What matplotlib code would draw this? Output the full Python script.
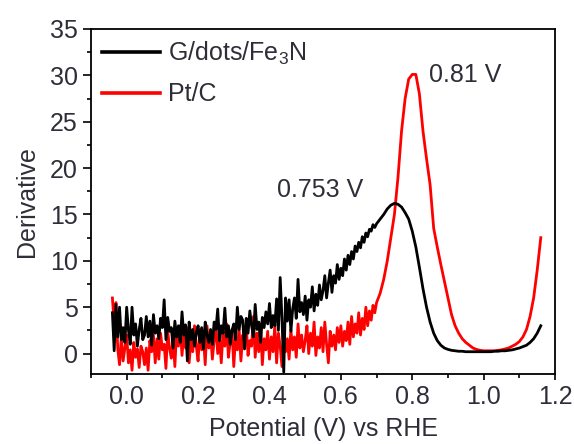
import numpy as np
import matplotlib
matplotlib.use("Agg")
import matplotlib.pyplot as plt
from matplotlib.ticker import MultipleLocator

plt.rcParams['font.family'] = ['Liberation Sans', 'DejaVu Sans']
plt.rcParams['mathtext.fontset'] = 'custom'
plt.rcParams['mathtext.rm'] = 'Liberation Sans'
plt.rcParams['mathtext.it'] = 'Liberation Sans'

# potential grid: fine in noisy region, coarser in smooth region
x_noisy = np.round(np.arange(-0.040, 0.6951, 0.005), 3)
x_smooth = np.round(np.arange(0.70, 1.1601, 0.01), 3)

black_noisy = [
    4.4, 0.3, 5.3, 1.8, 5.0, 1.5, 2.8, 1.2,
    5.0, 2.5, 1.0, 5.0, 2.0, 3.2, 0.8, 2.6, 3.8, 1.5,
    2.0, 4.0, 1.8, 3.5, 0.9, 4.2, 2.2, 3.0, 1.6, 3.8,
    2.8, 5.8, 1.5, 3.9, 2.4, 2.8, 0.6, 3.5, 1.8, 3.0,
    1.2, 4.5, 2.0, 3.1, -0.8, 3.4, 1.5, 2.6, 0.8, 2.2,
    3.0, 1.2, 2.8, 0.5, 3.4, 2.0, 1.2, 2.6, 1.0, 3.4,
    2.6, 4.8, 1.4, 3.0, 2.2, 4.9, 1.8, 3.0, 1.0, 2.5,
    3.2, 1.5, 5.0, 2.6, 4.0, 3.6, 0.5, 3.8, 2.2, 4.6,
    3.0, 1.8, 5.3, 2.6, 3.4, 1.2, 3.9, 2.8, 4.5, 3.2,
    5.4, 2.8, 4.1, 3.0, 5.9, 2.5, 8.2, 3.8, -2.0, 6.0,
    3.5, 5.8, 2.4, 4.8, 6.0, 3.8, 8.0, 4.5, 5.5, 4.2,
    6.2, 3.6, 5.8, 5.0, 7.2, 4.6, 6.4, 5.2, 7.4, 5.8,
    6.8, 8.4, 6.0, 7.6, 9.0, 6.6, 8.4, 7.6, 9.6, 8.0,
    9.2, 8.4, 10.2, 9.0, 10.6, 9.6, 11.0, 10.2, 11.6, 11.0,
    12.0, 11.4, 12.6, 12.0, 13.0, 12.6, 13.4, 13.2, 13.9, 13.6,
]
black_smooth = [
    14.0, 14.5, 15.0, 15.6, 16.0, 16.2, 16.1, 15.8, 15.2, 14.5,
    13.2, 11.5, 9.3, 7.0, 5.0, 3.4, 2.2, 1.4, 0.9, 0.6,
    0.45, 0.35, 0.3, 0.25, 0.25, 0.2, 0.2, 0.2, 0.2, 0.2,
    0.2, 0.2, 0.2, 0.25, 0.25, 0.3, 0.3, 0.35, 0.4, 0.5,
    0.6, 0.75, 0.9, 1.2, 1.6, 2.2, 3.0,
]

red_noisy = [
    6.0, 3.2, 5.5, 0.5, -1.2, 1.8, -0.8, 0.6,
    2.0, -1.0, 0.4, -1.8, 1.2, -0.4, 0.5, -1.5, 0.8, 0.2,
    -1.2, 0.6, -1.8, 1.4, 0.2, 2.0, -1.0, 1.6, -0.6, 2.2,
    0.4, 1.0, -1.6, 2.4, 0.6, -0.5, 1.8, -1.4, 2.6, 0.8,
    3.0, -0.2, 2.2, 0.6, 2.8, -1.0, 1.5, 0.2, 3.0, 0.8,
    -0.8, 2.6, 0.4, 1.8, -1.2, 3.0, 0.6, 2.2, -0.6, 1.4,
    2.8, 0.0, 1.6, -1.0, 2.4, 0.8, 3.2, -0.4, 1.2, 2.6,
    -1.4, 1.8, 0.4, 2.6, -0.8, 2.0, 0.6, 3.0, -0.2, 1.4,
    0.8, 4.0, -0.4, 2.2, 0.2, 3.2, -1.2, 1.6, 0.4, 2.4,
    -0.6, 1.8, 0.2, 3.0, -1.0, 2.2, 0.8, -1.4, 2.0, 0.2,
    1.6, -0.6, 2.6, 0.4, 1.8, -0.4, 3.2, 0.6, 2.0, 0.2,
    1.4, 3.0, 0.0, 2.2, 0.8, 3.4, -0.2, 1.8, 0.6, 2.8,
    0.2, 3.4, 1.0, -1.0, 2.4, 0.8, 2.0, 0.4, 2.8, 1.2,
    3.0, 0.8, 2.4, 1.4, 3.4, 1.0, 4.0, 1.8, 3.2, 2.2,
    4.4, 2.0, 3.8, 2.6, 5.0, 3.0, 4.6, 3.6, 5.2, 4.4,
]
red_smooth = [
    5.5, 6.5, 8.0, 10.0, 12.5, 15.0, 19.0, 24.0, 27.5, 29.6,
    30.1, 30.1, 28.0, 24.0, 21.0, 18.2, 13.5, 11.5, 9.6, 7.8,
    6.0, 4.2, 3.0, 2.2, 1.6, 1.2, 0.9, 0.6, 0.45, 0.35,
    0.3, 0.3, 0.3, 0.3, 0.35, 0.4, 0.5, 0.6, 0.8, 1.0,
    1.3, 1.8, 2.6, 4.0, 6.0, 9.0, 12.5,
]

labels = ["G/dots/Fe$_3$N", "Pt/C"]
peak_labels = ["0.753 V", "0.81 V"]

x_all = np.concatenate([x_noisy, x_smooth])
black = np.array(black_noisy + black_smooth)
red = np.array(red_noisy + red_smooth)

fig = plt.figure(figsize=(5.74, 4.44), dpi=100)
ax = fig.add_axes([0.1585, 0.1577, 0.8085, 0.777])

ax.plot(x_all, black, color='black', lw=2.0, label=labels[0], zorder=3)
ax.plot(x_all, red, color='#ff0000', lw=2.0, label=labels[1], zorder=2)

ax.set_xlim(-0.1, 1.2)
ax.set_ylim(-2.2, 35)
ax.xaxis.set_minor_locator(MultipleLocator(0.1))
ax.yaxis.set_major_locator(MultipleLocator(5))
ax.yaxis.set_minor_locator(MultipleLocator(2.5))
xt = np.round(np.arange(0.0, 1.21, 0.2), 1)
ax.set_xticks(xt)
ax.set_xticklabels([f"{v:.1f}" for v in xt])

tc = '#2e2e38'
ax.tick_params(axis='both', which='major', direction='out', width=1.2,
               labelsize=18, colors='black', labelcolor=tc, top=False, right=False)
ax.tick_params(axis='x', which='major', length=4, pad=4)
ax.tick_params(axis='y', which='major', length=5.5, pad=4)
ax.tick_params(axis='both', which='minor', direction='out', length=3, width=1.2,
               top=False, right=False)
for s in ax.spines.values():
    s.set_linewidth(1.3)

ax.set_xlabel("Potential (V) vs RHE", fontsize=18, color=tc, labelpad=6)
ax.set_ylabel("Derivative", fontsize=18, color=tc, labelpad=8)

leg = ax.legend(loc='upper left', frameon=False, fontsize=18, handlelength=2.3,
                handletextpad=0.32, labelspacing=0.6, borderaxespad=0.1,
                borderpad=0.35, labelcolor=tc)
for h in leg.legend_handles:
    h.set_linewidth(2.6)

ax.text(0.422, 17.6, peak_labels[0], fontsize=18, color=tc, va='center', ha='left')
ax.text(0.848, 30.0, peak_labels[1], fontsize=18, color=tc, va='center', ha='left')

fig.savefig("out.png", dpi=100)
